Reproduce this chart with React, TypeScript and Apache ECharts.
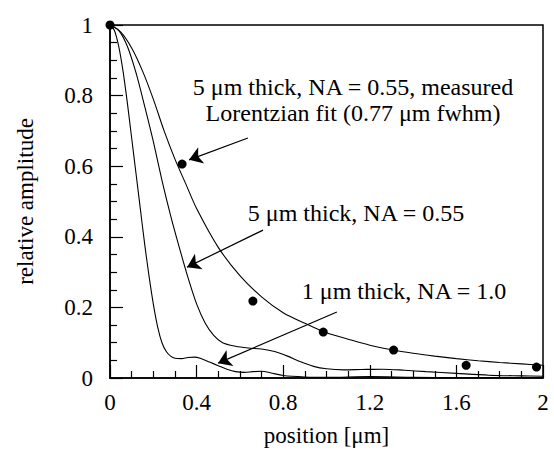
import React, { useEffect, useRef } from "react";
import * as echarts from "echarts";

// Lorentzian fit curve (5 um thick, NA = 0.55, measured)
const xFit = [0, 0.05, 0.1, 0.15, 0.2, 0.25, 0.3, 0.35, 0.4, 0.5, 0.6, 0.7, 0.8, 0.9, 1.0, 1.1, 1.2, 1.3, 1.4, 1.5, 1.6, 1.7, 1.8, 1.9, 2.0];
const yFit = [1, 0.98, 0.935, 0.87, 0.79, 0.7, 0.62, 0.55, 0.48, 0.37, 0.29, 0.23, 0.185, 0.155, 0.128, 0.11, 0.093, 0.08, 0.07, 0.062, 0.055, 0.049, 0.044, 0.04, 0.036];

// Measured points
const xMeas = [0, 0.333, 0.66, 0.985, 1.31, 1.645, 1.97];
const yMeas = [1, 0.606, 0.218, 0.13, 0.079, 0.036, 0.031];

// 5 um thick, NA = 0.55
const xThick = [0, 0.04, 0.08, 0.12, 0.16, 0.2, 0.24, 0.28, 0.32, 0.36, 0.4, 0.44, 0.48, 0.52, 0.58, 0.64, 0.7, 0.76, 0.82, 0.88, 0.94, 1.0, 1.08, 1.16, 1.26, 1.36, 1.46, 1.6, 1.75, 1.9, 2.0];
const yThick = [1, 0.985, 0.94, 0.865, 0.77, 0.67, 0.56, 0.46, 0.37, 0.285, 0.21, 0.155, 0.12, 0.1, 0.09, 0.085, 0.082, 0.075, 0.062, 0.046, 0.033, 0.026, 0.023, 0.024, 0.025, 0.022, 0.018, 0.013, 0.008, 0.006, 0.005];

// 1 um thick, NA = 1.0
const xThin = [0, 0.02, 0.04, 0.06, 0.08, 0.1, 0.12, 0.14, 0.16, 0.18, 0.2, 0.22, 0.24, 0.26, 0.28, 0.3, 0.33, 0.36, 0.39, 0.42, 0.46, 0.5, 0.54, 0.58, 0.62, 0.66, 0.7, 0.74, 0.8, 0.9, 1.0, 1.2, 1.4, 1.6, 2.0];
const yThin = [1, 0.985, 0.94, 0.87, 0.78, 0.68, 0.58, 0.48, 0.38, 0.29, 0.21, 0.145, 0.1, 0.075, 0.062, 0.056, 0.055, 0.058, 0.059, 0.055, 0.045, 0.035, 0.025, 0.018, 0.016, 0.018, 0.019, 0.015, 0.007, 0.003, 0.002, 0.004, 0.002, 0.001, 0.001];

// Annotation arrows: [tailX, tailY, tipX, tipY] in data units
const arrowFit = [0.637, 0.68, 0.365, 0.618];
const arrowThick = [0.707, 0.419, 0.356, 0.314];
const arrowThin = [1.048, 0.187, 0.499, 0.042];

const xTicks = [0, 0.4, 0.8, 1.2, 1.6, 2];
const yTicks = [0, 0.2, 0.4, 0.6, 0.8, 1];

const FONT = "Liberation Serif";

const pairs = (xs: number[], ys: number[]) => xs.map((x, i) => [x, ys[i]]);
const arrow = (a: number[]) => [
  { coord: [a[0], a[1]], symbol: "none" },
  { coord: [a[2], a[3]], symbol: "arrow" },
];

export default function App() {
  const ref = useRef<HTMLDivElement>(null);
  useEffect(() => {
    if (!ref.current) return;
    const chart = echarts.init(ref.current, undefined, { renderer: "svg" });
    const lineBase = {
      type: "line" as const,
      showSymbol: false,
      smooth: 0.3,
      lineStyle: { color: "#000", width: 1.1 },
      silent: true,
    };
    chart.setOption({
      animation: false,
      backgroundColor: "#fff",
      grid: {
        left: 110,
        right: 11,
        top: 25,
        bottom: 74,
        show: true,
        borderColor: "#000",
        borderWidth: 1.5,
      },
      xAxis: {
        type: "value",
        min: xTicks[0],
        max: xTicks[xTicks.length - 1],
        interval: 0.4,
        name: "position [μm]",
        nameLocation: "middle",
        nameGap: 46,
        nameTextStyle: { fontFamily: FONT, fontSize: 23, color: "#000" },
        axisLine: { lineStyle: { color: "#000", width: 1.5 } },
        axisTick: { inside: true, length: 13, lineStyle: { color: "#000", width: 1.2 } },
        minorTick: { show: true, splitNumber: 4, length: 7, lineStyle: { color: "#000", width: 1.2 } },
        splitLine: { show: false },
        axisLabel: { fontFamily: FONT, fontSize: 23, color: "#000", margin: 13 },
      },
      yAxis: {
        type: "value",
        min: yTicks[0],
        max: yTicks[yTicks.length - 1],
        interval: 0.2,
        name: "relative amplitude",
        nameLocation: "middle",
        nameGap: 73,
        nameTextStyle: { fontFamily: FONT, fontSize: 23, color: "#000" },
        axisLine: { lineStyle: { color: "#000", width: 1.5 } },
        axisTick: { inside: true, length: 13, lineStyle: { color: "#000", width: 1.2 } },
        minorTick: { show: true, splitNumber: 4, length: 7, lineStyle: { color: "#000", width: 1.2 } },
        splitLine: { show: false },
        axisLabel: { fontFamily: FONT, fontSize: 23, color: "#000", margin: 17 },
      },
      series: [
        { ...lineBase, name: "Lorentzian fit", data: pairs(xFit, yFit) },
        { ...lineBase, name: "5 μm thick, NA = 0.55", data: pairs(xThick, yThick) },
        { ...lineBase, name: "1 μm thick, NA = 1.0", data: pairs(xThin, yThin) },
        {
          type: "scatter",
          name: "measured",
          data: pairs(xMeas, yMeas),
          symbolSize: 9,
          itemStyle: { color: "#000", opacity: 1 },
          silent: true,
          markLine: {
            silent: true,
            symbol: ["none", "arrow"],
            symbolSize: 13,
            label: { show: false },
            lineStyle: { color: "#000", width: 1.2, type: "solid", opacity: 1 },
            emphasis: { disabled: true },
            data: [arrow(arrowFit), arrow(arrowThick), arrow(arrowThin)],
          },
        },
      ],
      graphic: [
        { type: "text", x: 353, y: 87, style: { text: "5 μm thick, NA = 0.55, measured", font: `24px "${FONT}"`, fill: "#000", textAlign: "center", textVerticalAlign: "middle" } },
        { type: "text", x: 353, y: 113, style: { text: "Lorentzian fit (0.77 μm fwhm)", font: `24px "${FONT}"`, fill: "#000", textAlign: "center", textVerticalAlign: "middle" } },
        { type: "text", x: 356, y: 213, style: { text: "5 μm thick, NA = 0.55", font: `24px "${FONT}"`, fill: "#000", textAlign: "center", textVerticalAlign: "middle" } },
        { type: "text", x: 404, y: 291, style: { text: "1 μm thick, NA = 1.0", font: `24px "${FONT}"`, fill: "#000", textAlign: "center", textVerticalAlign: "middle" } },
      ],
    });
    return () => chart.dispose();
  }, []);
  return (
    <div
      ref={ref}
      style={{ position: "fixed", left: 0, top: 0, width: 554, height: 452 }}
    />
  );
}
